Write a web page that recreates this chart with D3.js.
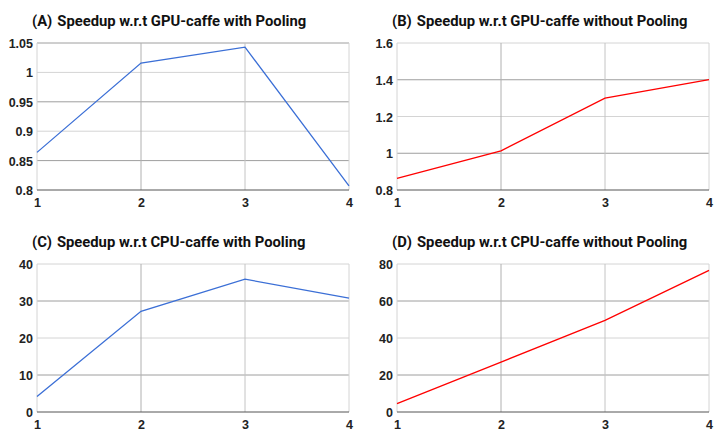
<!DOCTYPE html>
<html>
<head>
<meta charset="utf-8">
<script src="https://cdn.jsdelivr.net/npm/d3@7"></script>
<style>
  body { margin: 0; background: #fff; }
  svg { font-family: Roboto, "Noto Sans", sans-serif; }
</style>
</head>
<body>
<div id="chart"></div>
<script>
var width = 721,
    height = 445;

// x categories shared by all four panels
var xValues = [1, 2, 3, 4];

// series values
var gpuWithPooling    = [0.864, 1.016, 1.043, 0.807];
var gpuWithoutPooling = [0.863, 1.013, 1.300, 1.401];
var cpuWithPooling    = [4.2, 27.2, 35.9, 30.8];
var cpuWithoutPooling = [4.5, 27.0, 49.5, 76.6];

// y tick labels per panel
var ticksA = [0.8, 0.85, 0.9, 0.95, 1, 1.05];
var ticksB = [0.8, 1, 1.2, 1.4, 1.6];
var ticksC = [0, 10, 20, 30, 40];
var ticksD = [0, 20, 40, 60, 80];

var titles = [
  "Speedup w.r.t GPU-caffe with Pooling",
  "Speedup w.r.t GPU-caffe without Pooling",
  "Speedup w.r.t CPU-caffe with Pooling",
  "Speedup w.r.t CPU-caffe without Pooling"
];
var letters = ["(A)", "(B)", "(C)", "(D)"];

var panels = [
  { ox: 0,   oy: 0,   top: 43, bottom: 190, data: gpuWithPooling,    ticks: ticksA, color: "#3b6fd6" },
  { ox: 360, oy: 0,   top: 43, bottom: 190, data: gpuWithoutPooling, ticks: ticksB, color: "#ff0000" },
  { ox: 0,   oy: 220, top: 44, bottom: 192, data: cpuWithPooling,    ticks: ticksC, color: "#3b6fd6" },
  { ox: 360, oy: 220, top: 44, bottom: 192, data: cpuWithoutPooling, ticks: ticksD, color: "#ff0000" }
];

var svg = d3.select("#chart").append("svg")
    .attr("width", width)
    .attr("height", height);

panels.forEach(function(p, k) {
  var g = svg.append("g")
      .attr("transform", "translate(" + p.ox + "," + p.oy + ")");

  var x = d3.scaleLinear()
      .domain(d3.extent(xValues))
      .range([37, 349]);

  var y = d3.scaleLinear()
      .domain(d3.extent(p.ticks))
      .range([p.bottom, p.top]);

  // horizontal gridlines
  g.selectAll("line.hgrid")
    .data(p.ticks.slice(1))
    .enter().append("line")
      .attr("class", "hgrid")
      .attr("x1", x(1)).attr("x2", x(4))
      .attr("y1", function(d) { return y(d); })
      .attr("y2", function(d) { return y(d); })
      .style("stroke", function(d, i) { return i % 2 == 0 ? "#9e9e9e" : "#d4d4d4"; })
      .style("stroke-width", 1);

  // vertical gridlines
  g.selectAll("line.vgrid")
    .data(xValues)
    .enter().append("line")
      .attr("class", "vgrid")
      .attr("x1", function(d) { return x(d); })
      .attr("x2", function(d) { return x(d); })
      .attr("y1", y.range()[0]).attr("y2", y.range()[1])
      .style("stroke", function(d, i) { return i == 0 || i == 3 ? "#d4d4d4" : (i == 1 ? "#b0b0b0" : "#c4c4c4"); })
      .style("stroke-width", 1);

  // baseline
  g.append("line")
      .attr("x1", x(1)).attr("x2", x(4))
      .attr("y1", y(p.ticks[0])).attr("y2", y(p.ticks[0]))
      .style("stroke", "#555")
      .style("stroke-width", 1);

  // y axis labels
  var yAxis = d3.axisLeft(y)
      .tickValues(p.ticks)
      .tickSize(0)
      .tickPadding(4)
      .tickFormat(function(d) { return d3.format("~g")(d); });

  var ya = g.append("g")
      .attr("transform", "translate(" + x(1) + ",0)")
      .call(yAxis);
  ya.select(".domain").remove();
  ya.selectAll("text")
      .attr("dy", "0.36em")
      .style("font-size", "12.5px")
      .style("font-weight", "bold")
      .style("fill", "#222");

  // x axis labels
  var xAxis = d3.axisBottom(x)
      .tickValues(xValues)
      .tickSize(0)
      .tickPadding(8)
      .tickFormat(d3.format("d"));

  var xa = g.append("g")
      .attr("transform", "translate(0," + p.bottom + ")")
      .call(xAxis);
  xa.select(".domain").remove();
  xa.selectAll("text")
      .style("font-size", "12.5px")
      .style("font-weight", "bold")
      .style("fill", "#222");

  // the series line
  var line = d3.line()
      .x(function(d, i) { return x(xValues[i]); })
      .y(function(d) { return y(d); });

  g.append("path")
      .datum(p.data)
      .attr("d", line)
      .style("fill", "none")
      .style("stroke", p.color)
      .style("stroke-width", 1.3);

  // title
  var t = g.append("text")
      .attr("x", 32)
      .attr("y", p.top - 17)
      .style("font-size", "14.8px")
      .style("font-weight", "bold")
      .style("fill", "#111");
  t.append("tspan").text(letters[k]);
  t.append("tspan").attr("dx", 5).text(titles[k]);
});
</script>
</body>
</html>
